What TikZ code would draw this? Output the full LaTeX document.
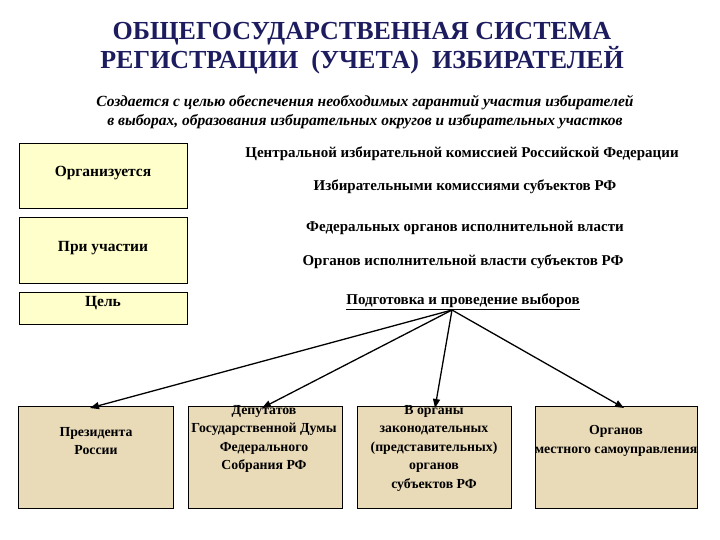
\documentclass[tikz,border=0pt]{standalone}
\usepackage{fontspec}
\setmainfont{Liberation Serif}
\usetikzlibrary{arrows.meta}
\definecolor{lbox}{HTML}{FFFFCC}
\definecolor{pbox}{HTML}{E9DAB8}
\definecolor{navy}{HTML}{1C1C5E}
\begin{document}
\begin{tikzpicture}[x=1pt,y=-1pt,
  lb/.style={draw,fill=lbox,line width=0.8pt},
  pb/.style={draw,fill=pbox,line width=0.8pt},
  lt/.style={font=\fontsize{15.5}{17}\selectfont\bfseries},
  rt/.style={font=\fontsize{15}{17}\selectfont\bfseries},
  bt/.style={font=\fontsize{13.8}{18.5}\selectfont\bfseries,align=center},
  arr/.style={-{Triangle[length=9pt,width=7pt]},line width=1.3pt}]
\useasboundingbox (0,0) rectangle (720,540);
\node[font=\fontsize{26}{29}\selectfont\bfseries,align=center,text=navy] (title) at (362,48)
  {ОБЩЕГОСУДАРСТВЕННАЯ СИСТЕМА\\РЕГИСТРАЦИИ\ \ (УЧЕТА)\ \ ИЗБИРАТЕЛЕЙ};
\node[font=\fontsize{15.5}{19}\selectfont\bfseries\itshape,align=center] (sub) at (365,112)
  {Создается с целью обеспечения необходимых гарантий участия избирателей\\в выборах, образования избирательных округов и избирательных участков};
\draw[lb] (19,143) rectangle (187,208);
\node[lt] (o1) at (103,173) {Организуется};
\draw[lb] (19,217) rectangle (187,283);
\node[lt] (o2) at (103,248) {При участии};
\draw[lb] (19,292) rectangle (187,324);
\node[lt] (o3) at (103,303) {Цель};
\node[rt] (r1) at (462,154) {Центральной избирательной комиссией Российской Федерации};
\node[rt] (r2) at (465,187) {Избирательными комиссиями субъектов РФ};
\node[rt] (r3) at (465,228) {Федеральных органов исполнительной власти};
\node[rt] (r4) at (463,262) {Органов исполнительной власти субъектов РФ};
\node[rt] (r5) at (463,302) {\underline{Подготовка и проведение выборов}};
\coordinate (hub) at (452,310);
\draw[pb] (18,406) rectangle (173,508);
\draw[pb] (188,406) rectangle (342,508);
\draw[pb] (357,406) rectangle (511,508);
\draw[pb] (535,406) rectangle (697,508);
\node[bt] (b1) at (96,441) {Президента\\России};
\node[bt] (b2) at (264,439) {Депутатов\\Государственной Думы\\Федерального\\Собрания РФ};
\node[bt] (b3) at (434,448) {В органы\\законодательных\\(представительных)\\органов\\субъектов РФ};
\node[bt] (b4) at (616,441) {Органов\\местного самоуправления};
\coordinate (e1) at (90,408);
\coordinate (e2) at (262,408);
\coordinate (e3) at (435,408);
\coordinate (e4) at (624,408);
\draw[arr] (hub) -- (e1);
\draw[arr] (hub) -- (e2);
\draw[arr] (hub) -- (e3);
\draw[arr] (hub) -- (e4);
\end{tikzpicture}
\end{document}
